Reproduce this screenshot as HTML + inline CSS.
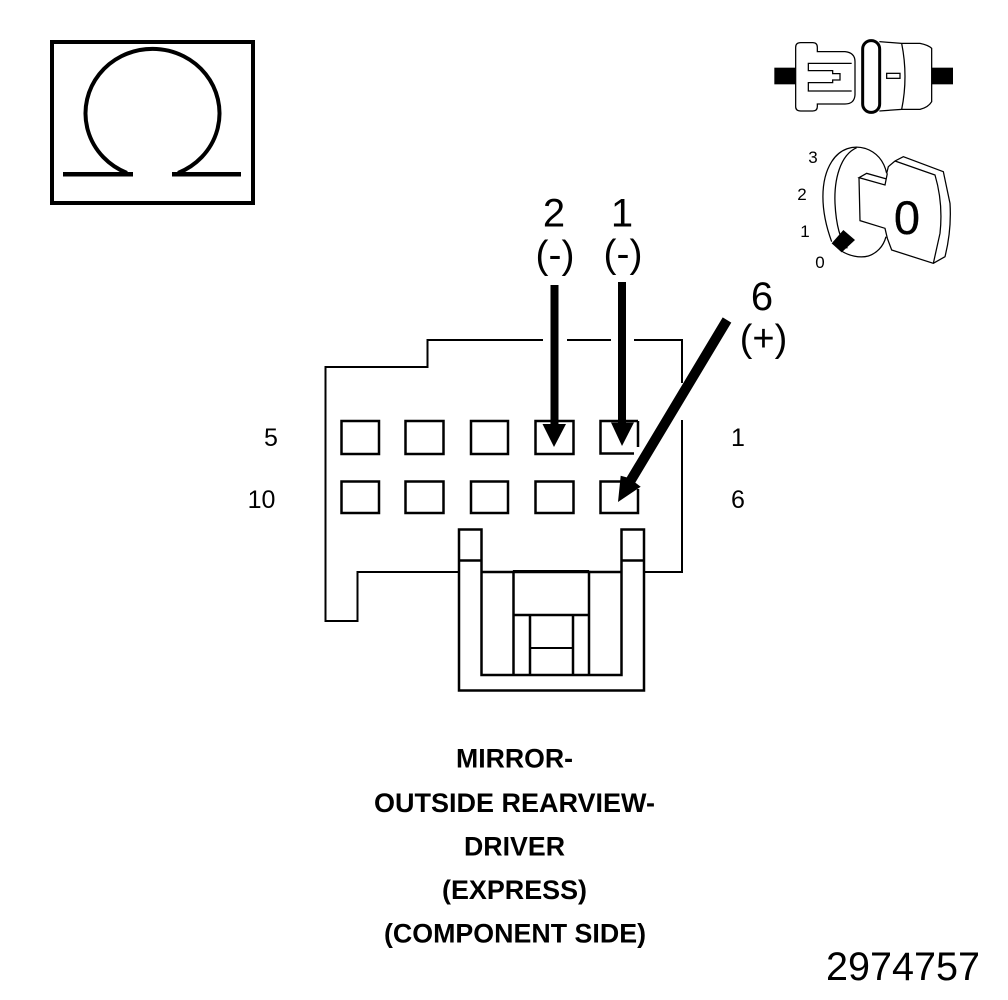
<!DOCTYPE html>
<html>
<head>
<meta charset="utf-8">
<style>
html,body{margin:0;padding:0;background:#fff;width:1008px;height:1000px;overflow:hidden}
svg{display:block}
text{font-family:"Liberation Sans",sans-serif;fill:#000}
.b{font-weight:bold;font-size:27px}
</style>
</head>
<body>
<svg width="1008" height="1000" viewBox="0 0 1008 1000" xmlns="http://www.w3.org/2000/svg">
<rect width="1008" height="1000" fill="#fff"/>

<!-- Omega box -->
<rect x="52" y="42" width="201" height="161" fill="none" stroke="#000" stroke-width="4"/>
<path d="M127,173 A67,64.500 0 1 1 178,173" fill="none" stroke="#000" stroke-width="4"/>
<rect x="63" y="172" width="70" height="4.500" fill="#000"/>
<rect x="172" y="172" width="69" height="4.500" fill="#000"/>

<!-- Switch icon, coordinates in 3x zoom space -->
<g transform="translate(760,30) scale(0.33333)" fill="none" stroke="#000" stroke-width="3.800">
  <rect x="43" y="113" width="64" height="50" fill="#000" stroke="none"/>
  <rect x="515" y="113" width="64" height="50" fill="#000" stroke="none"/>
  <path d="M107,52 Q107,38 122,38 L158,38 Q172,38 172,52 L172,65 L255,65 Q285,68 285,95 L285,195 Q283,222 255,222 L172,222 L172,230 Q172,243 158,243 L122,243 Q107,243 107,230 Z"/>
  <path d="M275,100 L145,100 L145,122 L218,122 L218,131 L240,131 L240,150 L218,150 L218,158 L145,158 L145,183 L275,183"/>
  <path d="M358,35 L425,40 L480,40 Q505,45 515,55 L515,215 Q505,232 480,238 L425,238 L358,243"/>
  <path d="M425,40 Q445,140 425,238"/>
  <rect x="380" y="130" width="40" height="15"/>
  <rect x="308" y="32" width="51" height="215" rx="25" ry="25" stroke-width="9"/>

  <!-- lock -->
  <path d="M215,635 C180,540 180,450 215,395 C240,355 280,345 315,355 C345,365 370,385 380,430"/>
  <path d="M290,353 C240,375 222,450 225,520 C228,580 240,630 262,655"/>
  <path d="M240,660 C265,678 300,685 325,678 C350,670 370,650 378,620"/>
  <!-- key -->
  <path d="M382,430 L375,465 L297,443 L320,430 L380,447"/>
  <path d="M297,443 L300,572 L375,595 L382,625 L395,660 L520,700 L555,680 Q575,600 570,520 L550,425 L430,380 L405,393 L385,410 L380,430"/>
  <path d="M405,393 L525,435 Q550,520 540,610 L520,700"/>
  <polygon points="250,600 285,630 245,667 215,640" fill="#000" stroke="none"/>
</g>
<text x="907" y="234" font-size="47" text-anchor="middle" stroke="#000" stroke-width="0.300">0</text>
<text x="813" y="163" font-size="17" text-anchor="middle">3</text>
<text x="802" y="200" font-size="17" text-anchor="middle">2</text>
<text x="805" y="237" font-size="17" text-anchor="middle">1</text>
<text x="820" y="268" font-size="17" text-anchor="middle">0</text>

<!-- Connector housing -->
<g fill="none" stroke="#000" stroke-width="2">
  <path d="M682,383 L682,340 L634,340 M611,340 L567,340 M543,340 L427.500,340 L427.500,367 L325.500,367 L325.500,621 L357.500,621 L357.500,572 L459,572"/>
  <path d="M682,420 L682,572 L644,572"/>
</g>

<!-- Pins -->
<g fill="none" stroke="#000" stroke-width="2.500">
  <rect x="341.500" y="421" width="37.500" height="33"/>
  <rect x="405.500" y="421" width="38" height="33"/>
  <rect x="471" y="421" width="37" height="33"/>
  <rect x="535.500" y="421" width="38" height="33"/>
  <path d="M638,421 L638,447 M634,453.500 L600.500,453.500 L600.500,421 L638,421"/>
  <rect x="341.500" y="481.500" width="37.500" height="31.500"/>
  <rect x="405.500" y="481.500" width="38" height="31.500"/>
  <rect x="471" y="481.500" width="37" height="31.500"/>
  <rect x="535.500" y="481.500" width="38" height="31.500"/>
  <path d="M623,481.500 L600.500,481.500 L600.500,513 L638,513 L638,489"/>
</g>

<!-- Clip -->
<g fill="none" stroke="#000" stroke-width="2.500">
  <path d="M459,529.500 L481.500,529.500 L481.500,675 L621.500,675 L621.500,529.500 L644,529.500 L644,690.500 L459,690.500 Z"/>
  <path d="M459,560.500 L481.500,560.500 M621.500,560.500 L644,560.500"/>
  <path d="M481.500,572 L513,572 M589,572 L621.500,572"/>
  <path d="M513.500,675 L513.500,572 L589,572 L589,675"/>
  <path d="M513.500,615 L589,615"/>
  <path d="M530,615 L530,675 M573,615 L573,675"/>
  <path d="M530,648 L573,648" stroke-width="2"/>
  <path d="M513,571.500 L589,571.500" stroke-width="3"/>
</g>

<!-- Arrows -->
<g fill="#000">
  <rect x="550.500" y="285" width="8" height="140"/>
  <polygon points="542.500,424 566,424 554,447"/>
  <rect x="618" y="282" width="8" height="142"/>
  <polygon points="611,422.500 634,422.500 622,446"/>
  <polygon points="722.700,317.400 731.300,322.600 635.300,482.600 640.700,486.700 618,502 620.700,475.700 626.700,477.400"/>
</g>

<!-- Labels -->
<text x="554" y="226.500" font-size="40" text-anchor="middle">2</text>
<text x="622" y="226.500" font-size="40" text-anchor="middle">1</text>
<text x="555" y="268" font-size="39" text-anchor="middle">(-)</text>
<text x="623" y="267" font-size="39" text-anchor="middle">(-)</text>
<text x="762" y="310" font-size="40" text-anchor="middle">6</text>
<text x="763.500" y="351" font-size="38" text-anchor="middle">(+)</text>

<text x="271" y="446" font-size="25" text-anchor="middle">5</text>
<text x="261.500" y="508" font-size="25" text-anchor="middle">10</text>
<text x="738" y="446" font-size="25" text-anchor="middle">1</text>
<text x="738" y="508" font-size="25" text-anchor="middle">6</text>

<text class="b" x="456" y="767.500" textLength="117" lengthAdjust="spacingAndGlyphs">MIRROR-</text>
<text class="b" x="374" y="812" textLength="281" lengthAdjust="spacingAndGlyphs">OUTSIDE REARVIEW-</text>
<text class="b" x="464" y="855.500" textLength="101" lengthAdjust="spacingAndGlyphs">DRIVER</text>
<text class="b" x="442" y="899" textLength="145" lengthAdjust="spacingAndGlyphs">(EXPRESS)</text>
<text class="b" x="384" y="942.500" textLength="262" lengthAdjust="spacingAndGlyphs">(COMPONENT SIDE)</text>

<text x="826" y="980" font-size="40" textLength="154" lengthAdjust="spacingAndGlyphs">2974757</text>
</svg>
</body>
</html>
